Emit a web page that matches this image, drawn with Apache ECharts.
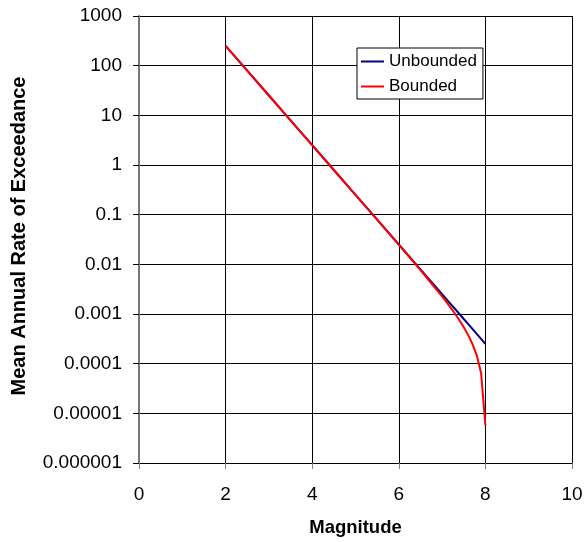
<!DOCTYPE html>
<html>
<head>
<meta charset="utf-8">
<script src="https://cdn.jsdelivr.net/npm/echarts@6/dist/echarts.min.js"></script>
<style>
  html, body { margin: 0; padding: 0; background: #fff; }
  #chart { width: 585px; height: 542px; }
</style>
</head>
<body>
<div id="chart"></div>
<script>
// Magnitudes at which the exceedance rates are tabulated
const magnitudes = [2, 2.5, 3, 3.5, 4, 4.5, 5, 5.5, 6, 6.5, 7, 7.1, 7.2, 7.3, 7.4, 7.5, 7.6, 7.7, 7.8, 7.9, 8];

// Mean annual rate of exceedance, unbounded recurrence relation
const unbounded = [251, 79.4, 25.1, 7.94, 2.51, 0.794, 0.251, 0.0794, 0.0251, 0.00794, 0.00251,
  0.00200, 0.00158, 0.00126, 0.00100, 0.000794, 0.000631, 0.000501, 0.000398, 0.000316, 0.000251];

// Mean annual rate of exceedance, bounded recurrence relation
const bounded = [251, 79.4, 25.1, 7.94, 2.51, 0.794, 0.251, 0.0792, 0.0249, 0.00769, 0.00226,
  0.00175, 0.00133, 0.00101, 0.000749, 0.000543, 0.000380, 0.000250, 0.000147, 0.0000650, 0.0000058];

// Tick labels of the logarithmic rate axis, from 1e-6 up to 1e3
const yTickLabels = ['0.000001', '0.00001', '0.0001', '0.001', '0.01', '0.1', '1', '10', '100', '1000'];
const xTickLabels = ['0', '2', '4', '6', '8', '10'];

const seriesNames = ['Unbounded', 'Bounded'];

const FONT = "'Liberation Sans', Arial, Helvetica, sans-serif";

const pairs = (xs, ys) => xs.map((x, i) => [x, ys[i]]);

const chart = echarts.init(document.getElementById('chart'), null, { renderer: 'canvas' });

chart.setOption({
  backgroundColor: '#ffffff',
  animation: false,
  grid: {
    left: 139, top: 16, right: 13, bottom: 79,
    containLabel: false,
    outerBoundsMode: 'none'
  },
  legend: {
    data: seriesNames,
    orient: 'vertical',
    left: 357, top: 48,
    icon: 'rect',
    itemWidth: 23, itemHeight: 2,
    itemGap: 8,
    padding: [5, 6, 4, 4],
    backgroundColor: '#ffffff',
    borderColor: '#000000',
    borderWidth: 1,
    borderRadius: 0,
    textStyle: { fontFamily: FONT, fontSize: 17, color: '#000', lineHeight: 17 }
  },
  xAxis: {
    type: 'value',
    min: 0, max: 10, interval: 2,
    axisLine: { show: true, onZero: false, lineStyle: { color: '#000', width: 1 } },
    axisTick: { show: true, inside: false, length: 6, lineStyle: { color: '#808080' } },
    axisLabel: {
      margin: 22, fontFamily: FONT, fontSize: 19, color: '#000',
      formatter: v => xTickLabels[Math.round(v / 2)]
    },
    splitLine: { show: true, lineStyle: { color: '#000', width: 1 } }
  },
  yAxis: {
    type: 'log',
    logBase: 10,
    min: 1e-6, max: 1000,
    axisLine: { show: true, lineStyle: { color: '#777', width: 2 } },
    axisTick: { show: true, inside: false, length: 6, lineStyle: { color: '#000' } },
    axisLabel: {
      margin: 17, fontFamily: FONT, fontSize: 19, color: '#000',
      formatter: v => yTickLabels[Math.round(Math.log10(v)) + 6]
    },
    splitLine: { show: true, lineStyle: { color: '#000', width: 1 } },
    minorTick: { show: false },
    minorSplitLine: { show: false }
  },
  graphic: [
    {
      type: 'text',
      x: 355.5, y: 527.5,
      style: {
        text: 'Magnitude',
        fontFamily: FONT, fontSize: 18.5, fontWeight: 'bold', fill: '#000',
        textAlign: 'center', textVerticalAlign: 'middle'
      }
    },
    {
      type: 'text',
      x: 19.5, y: 236,
      rotation: Math.PI / 2,
      style: {
        text: 'Mean Annual Rate of Exceedance',
        fontFamily: FONT, fontSize: 20, fontWeight: 'bold', fill: '#000',
        textAlign: 'center', textVerticalAlign: 'middle'
      }
    }
  ],
  series: [
    {
      name: seriesNames[0],
      type: 'line',
      data: pairs(magnitudes, unbounded),
      showSymbol: false,
      symbol: 'none',
      lineStyle: { color: '#000080', width: 2 },
      itemStyle: { color: '#000080' },
      z: 2
    },
    {
      name: seriesNames[1],
      type: 'line',
      data: pairs(magnitudes, bounded),
      showSymbol: false,
      symbol: 'none',
      lineStyle: { color: '#ff0000', width: 2 },
      itemStyle: { color: '#ff0000' },
      z: 3
    }
  ]
});
</script>
</body>
</html>
